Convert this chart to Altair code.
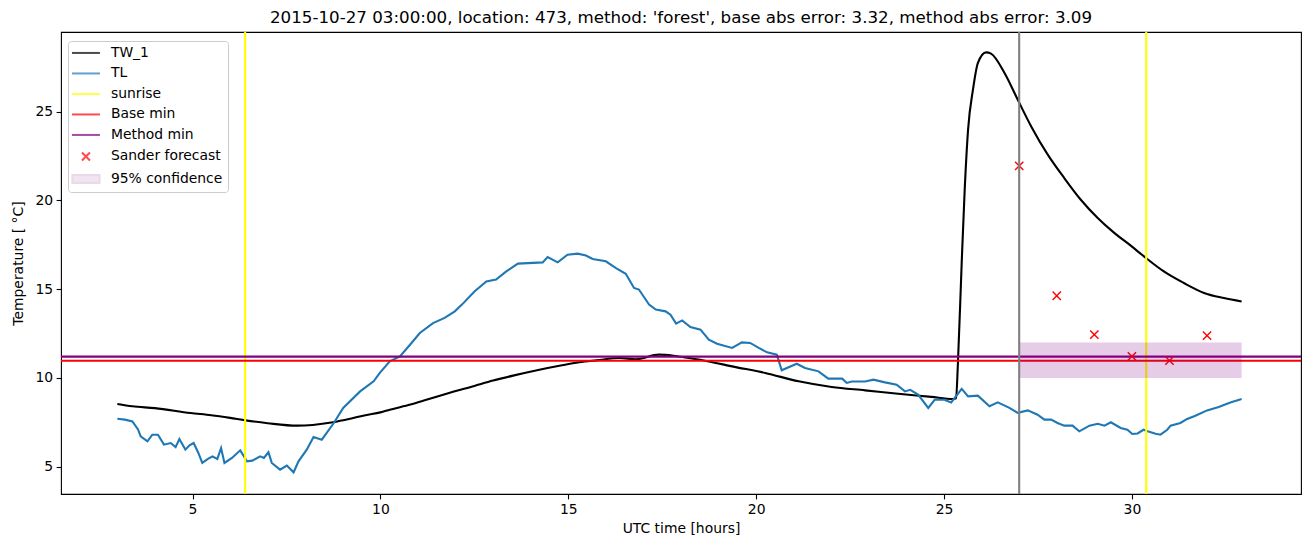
import altair as alt
import pandas as pd

TITLE = "2015-10-27 03:00:00, location: 473, method: 'forest', base abs error: 3.32, method abs error: 3.09"

tl_hours = [3.00, 3.20, 3.40, 3.55, 3.62, 3.80, 3.93, 4.08, 4.24, 4.42, 4.55, 4.65, 4.81, 4.92,
            5.03, 5.15, 5.26, 5.40, 5.53, 5.66, 5.76, 5.85, 6.05, 6.27, 6.45, 6.59, 6.80, 6.90,
            7.02, 7.11, 7.33, 7.51, 7.69, 7.82, 8.04, 8.22, 8.44, 8.76, 9.01, 9.46, 9.82, 9.99,
            10.25, 10.52, 10.80, 11.05, 11.40, 11.71, 11.98, 12.17, 12.51, 12.82, 13.08, 13.35,
            13.66, 14.32, 14.45, 14.72, 14.98, 15.25, 15.47, 15.65, 16.00, 16.27, 16.53, 16.75,
            16.88, 17.15, 17.33, 17.59, 17.72, 17.87, 18.03, 18.25, 18.52, 18.74, 18.96, 19.36,
            19.62, 19.84, 20.07, 20.29, 20.55, 20.68, 21.08, 21.30, 21.66, 21.92, 22.29, 22.41,
            22.55, 22.90, 23.12, 23.43, 23.74, 23.96, 24.10, 24.31, 24.58, 24.75, 25.01, 25.19,
            25.47, 25.64, 25.90, 26.21, 26.43, 26.74, 26.96, 27.23, 27.49, 27.67, 27.85, 28.02,
            28.20, 28.42, 28.60, 28.87, 29.09, 29.27, 29.44, 29.70, 29.88, 30.01, 30.15, 30.31,
            30.42, 30.63, 30.76, 30.94, 31.03, 31.29, 31.47, 31.69, 32.00, 32.31, 32.62, 32.92]
tl_temp = [7.70, 7.65, 7.55, 7.10, 6.71, 6.43, 6.80, 6.80, 6.24, 6.33, 6.10, 6.56, 5.96, 6.20,
           6.33, 5.80, 5.21, 5.43, 5.58, 5.43, 6.05, 5.21, 5.49, 5.92, 5.30, 5.34, 5.58, 5.49,
           5.81, 5.21, 4.83, 5.06, 4.68, 5.30, 5.96, 6.67, 6.52, 7.46, 8.31, 9.24, 9.81, 10.30,
           10.93, 11.21, 11.90, 12.53, 13.09, 13.38, 13.75, 14.13, 14.88, 15.44, 15.54, 16.00,
           16.44, 16.51, 16.81, 16.51, 16.94, 17.00, 16.90, 16.70, 16.57, 16.19, 15.87, 15.07,
           14.98, 14.13, 13.85, 13.75, 13.56, 13.06, 13.24, 12.87, 12.72, 12.15, 11.93, 11.69,
           12.00, 11.97, 11.69, 11.44, 11.31, 10.43, 10.80, 10.56, 10.37, 9.96, 9.96, 9.72,
           9.80, 9.80, 9.90, 9.75, 9.62, 9.24, 9.33, 9.06, 8.31, 8.77, 8.77, 8.62,
           9.38, 8.96, 9.00, 8.40, 8.62, 8.31, 8.03, 8.17, 7.93, 7.65, 7.65, 7.46,
           7.31, 7.31, 6.99, 7.31, 7.42, 7.31, 7.50, 7.18, 7.08, 6.84, 6.87, 7.08,
           6.99, 6.86, 6.80, 7.08, 7.31, 7.46, 7.69, 7.87, 8.17, 8.36, 8.62, 8.81]

tw_hours = [3.00, 3.40, 4.00, 4.95, 5.50, 6.00, 6.41, 7.00, 7.78, 8.20, 8.74, 9.20, 9.60,
            10.00, 10.25, 10.80, 11.20, 11.76, 12.50, 13.00, 13.53, 14.20, 14.80, 15.29,
            15.75, 16.37, 16.80, 17.41, 17.80, 18.21, 18.74, 19.36, 20.24, 21.13, 22.01,
            22.90, 23.78, 24.66, 25.24, 25.32, 25.37, 25.47, 25.55, 25.64, 25.77, 25.90,
            26.12, 26.25, 26.61, 26.94, 27.32, 27.76, 28.20, 28.64, 29.09, 29.53, 29.97,
            30.32, 30.85, 31.38, 31.92, 32.45, 32.92]
tw_temp = [8.53, 8.40, 8.30, 8.02, 7.90, 7.75, 7.61, 7.45, 7.31, 7.35, 7.50, 7.70, 7.90,
           8.06, 8.21, 8.50, 8.75, 9.11, 9.55, 9.85, 10.13, 10.45, 10.70, 10.88,
           10.99, 11.12, 11.05, 11.31, 11.25, 11.12, 10.93, 10.65, 10.28, 9.81, 9.49,
           9.30, 9.11, 8.93, 8.81, 8.85, 10.84, 16.48, 20.60, 23.99, 26.24, 27.74,
           28.34, 28.27, 27.18, 25.77, 24.17, 22.58, 21.26, 20.04, 19.01, 18.17, 17.45,
           16.85, 16.00, 15.35, 14.79, 14.50, 14.31]

sunrise_hours = [6.40, 30.38]
now_hour = [27.0]
base_min = [10.97]
method_min = [11.20]
forecast_hours = [27, 28, 29, 30, 31, 32]
forecast_temp = [21.95, 14.63, 12.44, 11.21, 10.97, 12.38]
conf_start = [27.0]
conf_end = [32.92]
conf_low = [10.0]
conf_high = [12.0]

legend_labels = ["TW_1", "TL", "sunrise", "Base min", "Method min", "Sander forecast", "95% confidence"]
legend_stroke = ["black", "#1f77b4", "yellow", "red", "purple", "red", "#e2c9e2"]
legend_fill = ["transparent", "transparent", "transparent", "transparent", "transparent", "transparent", "#e2c9e2"]
LINE_PATH = "M-3.5,0H3.5"
X_PATH = "M-1,-1L1,1M1,-1L-1,1"
RECT_PATH = "M-3.4,-1H3.4V1H-3.4Z"
legend_shapes = [LINE_PATH, LINE_PATH, LINE_PATH, LINE_PATH, LINE_PATH, X_PATH, RECT_PATH]

FONT = "DejaVu Sans"
x_scale = alt.Scale(domain=[1.5, 34.5], nice=False, zero=False)
y_scale = alt.Scale(domain=[3.46, 29.49], nice=False, zero=False)
x_axis = alt.Axis(values=[5, 10, 15, 20, 25, 30])
y_axis = alt.Axis(values=[5, 10, 15, 20, 25], titlePadding=9)
XT = "UTC time [hours]"
YT = "Temperature [ °C]"


def xe(field="hour"):
    return alt.X(f"{field}:Q", scale=x_scale, axis=x_axis, title=XT)


def ye(field="temp"):
    return alt.Y(f"{field}:Q", scale=y_scale, axis=y_axis, title=YT)


tw_df = pd.DataFrame({"hour": tw_hours, "temp": tw_temp})
tl_df = pd.DataFrame({"hour": tl_hours, "temp": tl_temp})
sun_df = pd.DataFrame({"hour": sunrise_hours})
now_df = pd.DataFrame({"hour": now_hour})
base_df = pd.DataFrame({"temp": base_min})
meth_df = pd.DataFrame({"temp": method_min})
fc_df = pd.DataFrame({"hour": forecast_hours, "temp": forecast_temp})
conf_df = pd.DataFrame({"hour": conf_start, "hour2": conf_end, "temp": conf_low, "temp2": conf_high})
leg_df = pd.DataFrame({"series": legend_labels})

tw = alt.Chart(tw_df).mark_line(color="black", strokeWidth=2.1, interpolate="monotone").encode(x=xe(), y=ye())
tl = alt.Chart(tl_df).mark_line(color="#1f77b4", strokeWidth=2.1).encode(x=xe(), y=ye())
sun = alt.Chart(sun_df).mark_rule(color="yellow", strokeWidth=2.1).encode(x=xe())
base = alt.Chart(base_df).mark_rule(color="red", strokeWidth=2.1).encode(y=ye())
meth = alt.Chart(meth_df).mark_rule(color="purple", strokeWidth=2.1).encode(y=ye())
fc = alt.Chart(fc_df).mark_point(shape=X_PATH, size=69, filled=False, color="red",
                                 strokeWidth=1.4, opacity=1).encode(x=xe(), y=ye())
conf = alt.Chart(conf_df).mark_rect(color="purple", opacity=0.2).encode(
    x=xe(), x2="hour2:Q", y=ye(), y2="temp2:Q")
now = alt.Chart(now_df).mark_rule(color="gray", strokeWidth=2.1).encode(x=xe())

leg = alt.Legend(title=None, orient="none", legendX=7, legendY=9, padding=5,
                 strokeColor="#cccccc", fillColor="rgba(255,255,255,0.8)", cornerRadius=3,
                 labelFont=FONT, labelFontSize=13.9, labelColor="black",
                 symbolSize=64, symbolStrokeWidth=2, rowPadding=5.5,
                 symbolOffset=6, labelOffset=18)
legend_layer = alt.Chart(leg_df).mark_point(filled=False).encode(
    stroke=alt.Stroke("series:N", scale=alt.Scale(domain=legend_labels, range=legend_stroke), legend=leg),
    fill=alt.Fill("series:N", scale=alt.Scale(domain=legend_labels, range=legend_fill), legend=leg),
    shape=alt.Shape("series:N", scale=alt.Scale(domain=legend_labels, range=legend_shapes), legend=leg),
).transform_filter("datum.series == 'none'")

chart = alt.layer(tw, tl, sun, base, meth, fc, conf, now, legend_layer).properties(
    width=1240, height=462,
    title=alt.TitleParams(text=TITLE, font=FONT, fontSize=16.7, fontWeight="normal",
                          color="black", offset=4, anchor="middle"),
    autosize=alt.AutoSizeParams(type="none"),
    padding={"left": 53, "top": 24, "right": 1, "bottom": 45},
).configure_view(stroke="black", strokeWidth=1.1).configure_axis(
    domain=False, grid=False, tickColor="black", tickSize=4.9, tickWidth=1.1,
    labelFont=FONT, labelFontSize=13.9, labelColor="black", labelPadding=3.5,
    titleFont=FONT, titleFontSize=13.9, titleFontWeight="normal", titleColor="black",
    titlePadding=5,
)

chart.save("out.html", embed_options={"renderer": "svg", "actions": False})
